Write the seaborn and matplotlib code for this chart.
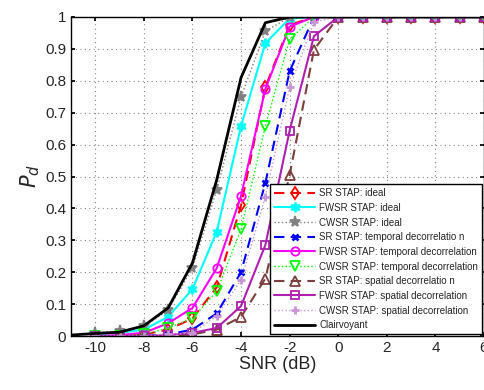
import numpy as np
import pandas as pd
import matplotlib
matplotlib.use("Agg")
import matplotlib.pyplot as plt
import seaborn as sns

# SNR grid (dB)
snr = [-10, -9, -8, -7, -6, -5, -4, -3, -2, -1, 0, 1, 2, 3, 4, 5, 6]
snr_clair = [-11] + snr

# Pd curves
sr_ideal = [0.0, 0.0, 0.005, 0.02, 0.055, 0.153, 0.41, 0.78, 0.975, 1, 1, 1, 1, 1, 1, 1, 1]
fwsr_ideal = [0.005, 0.01, 0.02, 0.06, 0.147, 0.327, 0.658, 0.918, 0.995, 1, 1, 1, 1, 1, 1, 1, 1]
cwsr_ideal = [0.01, 0.015, 0.03, 0.081, 0.213, 0.458, 0.75, 0.955, 1, 1, 1, 1, 1, 1, 1, 1, 1]
sr_temporal = [0.0, 0.0, 0.0, 0.005, 0.02, 0.071, 0.2, 0.48, 0.83, 1, 1, 1, 1, 1, 1, 1, 1]
fwsr_temporal = [0.0, 0.003, 0.01, 0.04, 0.088, 0.213, 0.439, 0.774, 0.97, 1, 1, 1, 1, 1, 1, 1, 1]
cwsr_temporal = [0.0, 0.0, 0.005, 0.025, 0.056, 0.14, 0.335, 0.658, 0.93, 1, 1, 1, 1, 1, 1, 1, 1]
sr_spatial = [0.0, 0.0, 0.0, 0.0, 0.005, 0.02, 0.06, 0.18, 0.505, 0.897, 1, 1, 1, 1, 1, 1, 1]
fwsr_spatial = [0.0, 0.0, 0.0, 0.003, 0.01, 0.025, 0.094, 0.285, 0.644, 0.94, 1, 1, 1, 1, 1, 1, 1]
cwsr_spatial = [0.0, 0.0, 0.0, 0.005, 0.01, 0.063, 0.175, 0.437, 0.78, 0.985, 1, 1, 1, 1, 1, 1, 1]
clairvoyant = [0.003, 0.008, 0.012, 0.032, 0.088, 0.229, 0.49, 0.81, 0.982, 1, 1, 1, 1, 1, 1, 1, 1, 1]

labels = [
    "SR STAP: ideal",
    "FWSR STAP: ideal",
    "CWSR STAP: ideal",
    "SR STAP: temporal decorrelatio n",
    "FWSR STAP: temporal decorrelation",
    "CWSR STAP: temporal decorrelation",
    "SR STAP: spatial decorrelatio n",
    "FWSR STAP: spatial decorrelation",
    "CWSR STAP: spatial decorrelation",
    "Clairvoyant",
]

sns.set_theme(style="white")
plt.rcParams["font.family"] = ["Liberation Sans", "DejaVu Sans"]

fig = plt.figure(figsize=(4.85, 3.9), dpi=100)
ax = fig.add_axes([71 / 485, 54 / 390, 413 / 485, 319 / 390])

# (values, color, linestyle, marker, filled, linewidth, markersize)
styles = [
    (sr_ideal, "#ff0000", (0, (5, 3)), "d", False, 1.5, 6.5),
    (fwsr_ideal, "#00ffff", "-", (6, 1, 0), True, 1.5, 7),
    (cwsr_ideal, "#808080", ":", "*", True, 1.0, 8),
    (sr_temporal, "#0000ff", (0, (5, 3)), "x", True, 1.5, 4.5),
    (fwsr_temporal, "#ff00ff", "-", "o", False, 1.5, 6),
    (cwsr_temporal, "#00ff00", ":", "v", False, 1.0, 6.5),
    (sr_spatial, "#7f3f3f", (0, (5, 3)), "^", False, 1.5, 6.5),
    (fwsr_spatial, "#b020b0", "-", "s", False, 1.5, 5.5),
    (cwsr_spatial, "#c896d8", ":", "+", True, 1.0, 6),
]

for (vals, col, ls, mk, filled, lw, ms), lab in zip(styles, labels[:-1]):
    mew = 2.0 if mk in ("x", "+") else 1.3
    sns.lineplot(x=snr, y=vals, ax=ax, color=col, linestyle=ls, linewidth=lw,
                 marker=mk, markersize=ms,
                 markerfacecolor=col if filled else "none",
                 markeredgecolor=col, markeredgewidth=mew,
                 label=lab, estimator=None, sort=False)

sns.lineplot(x=snr_clair, y=clairvoyant, ax=ax, color="black", linewidth=2.0,
             label=labels[-1], estimator=None, sort=False)

ax.set_xlim(-11, 6)
ax.set_ylim(0, 1)
ax.set_xticks(np.arange(-10, 7, 2))
ax.set_yticks(np.arange(0, 1.01, 0.1))
ax.set_xticklabels([f"{v:d}" for v in range(-10, 7, 2)])
ax.set_yticklabels(["0"] + [f"{v:.1f}" for v in np.arange(0.1, 0.95, 0.1)] + ["1"])
ax.tick_params(direction="in", labelsize=11, length=3, color="black",
               top=True, right=True, bottom=True, left=True)
ax.grid(True, linestyle=(0, (1, 3)), color="#888888", linewidth=0.8)
for sp in ax.spines.values():
    sp.set_color("black")
    sp.set_linewidth(1.0)

ax.set_xlabel("SNR (dB)", fontsize=13, labelpad=1)
ax.set_ylabel(r"$P_d$", fontsize=15, labelpad=2)

leg = ax.legend(loc="lower right", fontsize=7, frameon=True, fancybox=False,
                edgecolor="black", framealpha=1, handlelength=4.3,
                labelspacing=0.48, borderaxespad=0.2, borderpad=0.4,
                handletextpad=0.4)
leg.get_frame().set_linewidth(1.0)

fig.savefig("out.png", dpi=100)
